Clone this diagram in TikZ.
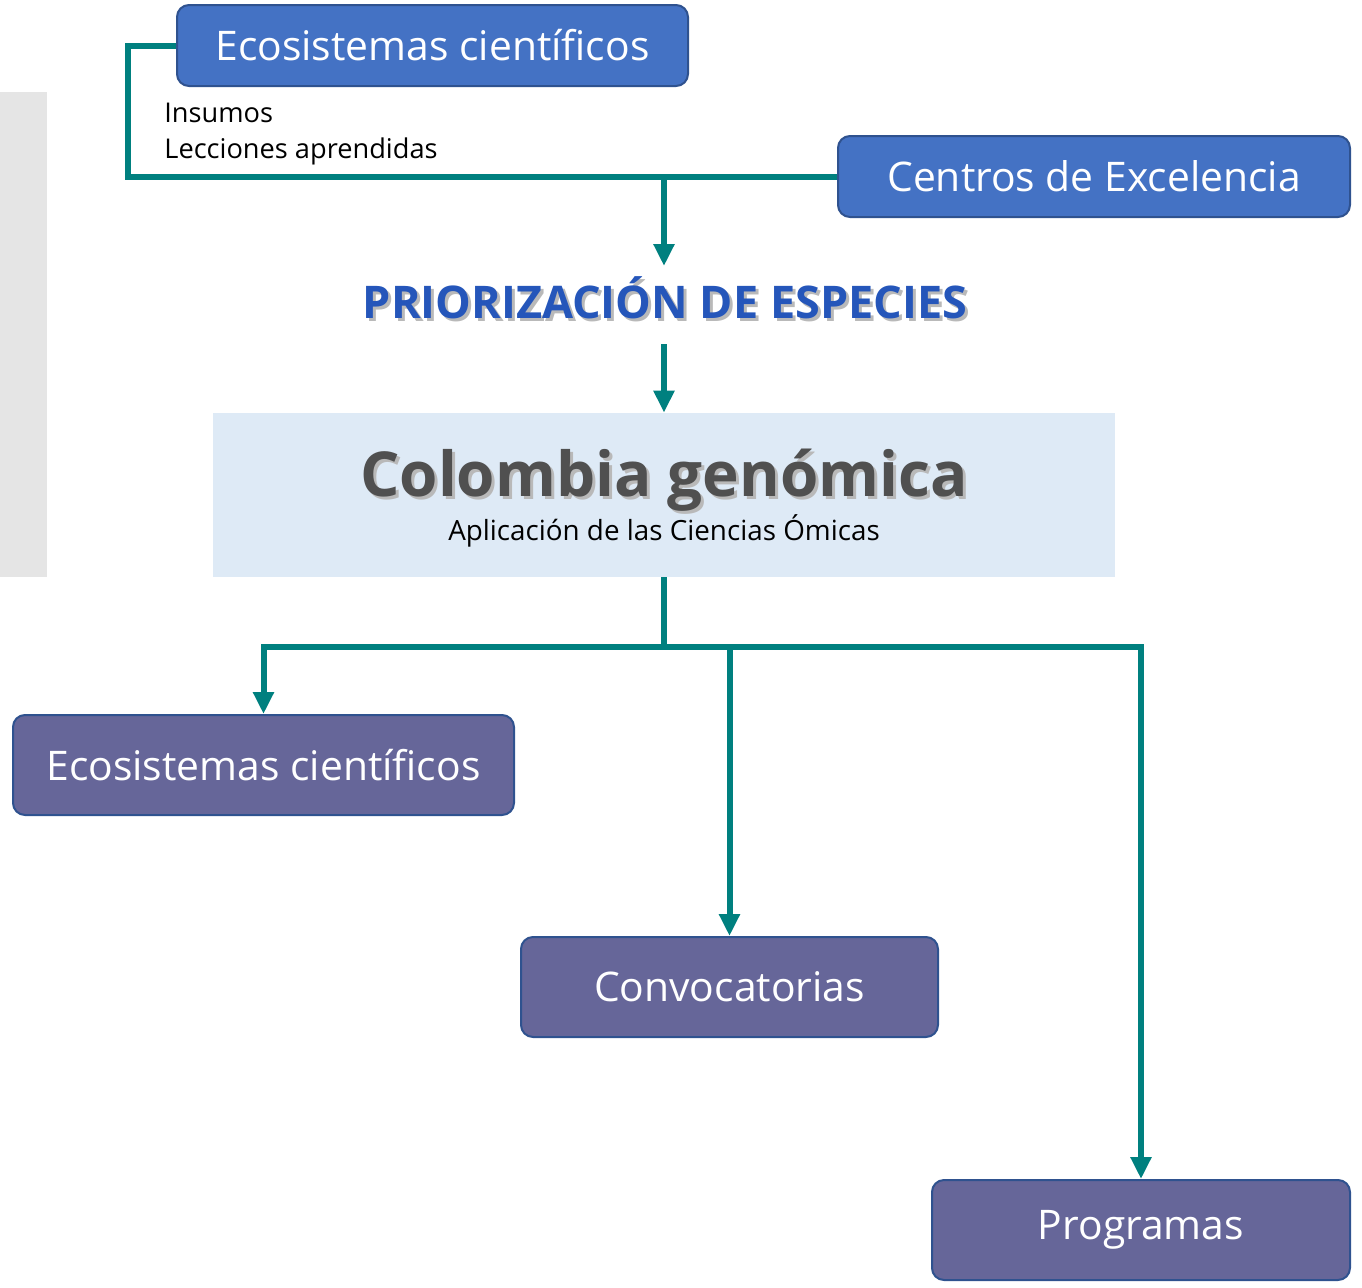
\documentclass[tikz,border=0pt]{standalone}
\usepackage{fontspec}
\setmainfont{Open Sans}
\usetikzlibrary{arrows.meta,positioning}
\definecolor{lineteal}{HTML}{00807F}
\definecolor{topblue}{HTML}{4472C4}
\definecolor{boxedge}{HTML}{2F528F}
\definecolor{lowpurple}{HTML}{666699}
\definecolor{paleblue}{HTML}{DEEAF6}
\definecolor{titleblue}{HTML}{2556BA}
\definecolor{darkgray}{HTML}{505050}
% text with a soft drop shadow
\newcommand{\shadowed}[1]{\makebox[0pt][l]{\hspace{1.5pt}\raisebox{-1.5pt}{\textcolor{gray!55}{#1}}}#1}

\begin{document}
\begin{tikzpicture}[x=0.5pt,y=-0.5pt,
  topbox/.style={draw=boxedge,line width=1pt,fill=topblue,rounded corners=6pt,text=white,font=\fontsize{20.4}{24}\selectfont,minimum height=40.5pt},
  lowbox/.style={draw=boxedge,line width=1pt,fill=lowpurple,rounded corners=6pt,text=white,font=\fontsize{20.4}{24}\selectfont,minimum height=50pt},
  link/.style={draw=lineteal,line width=3pt},
  arrow/.style={link,-{Triangle[length=11pt,width=10pt]}}]
  \useasboundingbox (0,0) rectangle (1362,1287);
  % side panel
  \fill[black!10] (0,92) rectangle (47,577);
  % upper boxes
  \node[topbox,minimum width=255.5pt] (eco) at (432.5,45.5) {Ecosistemas científicos};
  \node[topbox,minimum width=256pt] (centros) at (1094,176.5) {Centros de Excelencia};
  \node[anchor=north west,align=left,inner sep=0pt,font=\fontsize{13.6}{18}\selectfont] (insumos) at (164,103) {Insumos\\Lecciones aprendidas};
  % priorizacion
  \node[text=titleblue,font=\bfseries\fontsize{22.5}{26}\selectfont] (prior) at (665,299) {\shadowed{PRIORIZACIÓN DE ESPECIES}};
  \coordinate (priortop) at (664,266);
  \coordinate (priorbot) at (664,344);
  % colombia genomica
  \node[fill=paleblue,minimum width=451pt,minimum height=82pt] (cg) at (664,495) {};
  \node[text=darkgray,font=\bfseries\fontsize{31}{36}\selectfont] (cgtitle) at (664,482) {\shadowed{Colombia genómica}};
  \node[font=\fontsize{13.9}{16}\selectfont] (cgsub) at (664,531) {Aplicación de las Ciencias Ómicas};
  % lower boxes
  \node[lowbox,minimum width=250.5pt] (eco2) at (263.5,765) {Ecosistemas científicos};
  \node[lowbox,minimum width=208.5pt] (conv) at (729.5,987) {Convocatorias};
  \node[lowbox,minimum width=209pt] (prog) at (1141,1230) {Programas};
  % connectors
  \coordinate (join) at (664,177);
  \coordinate (split) at (664,647);
  \draw[link] (eco.west) -- (128,45.5) |- (centros.west);
  \draw[arrow] (join) -- (priortop);
  \draw[arrow] (priorbot) -- (cg.north);
  \draw[link] (cg.south) -- (split);
  \draw[arrow] (split) -| (eco2.north);
  \draw[arrow] (split) -| (prog.north);
  \draw[arrow] (split -| conv.north) -- (conv.north);
\end{tikzpicture}
\end{document}
